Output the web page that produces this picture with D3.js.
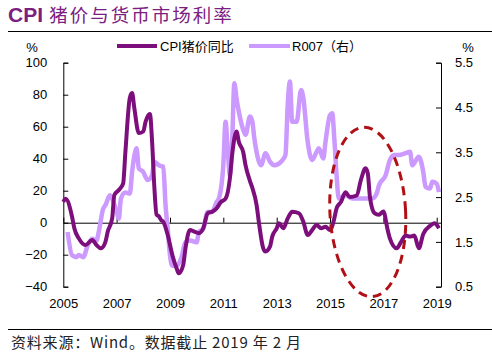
<!DOCTYPE html>
<html><head><meta charset="utf-8">
<script src="https://cdn.jsdelivr.net/npm/d3@7"></script>
<style>
body{margin:0;background:#fff;}
svg{display:block;font-family:"Liberation Sans",Arial,sans-serif;}
</style></head>
<body><svg id="c" width="492" height="359"></svg>
<script>
const pigDates = ["2005-01","2005-02","2005-05","2005-06","2005-08","2005-11","2006-02","2006-04","2006-06","2006-08","2006-09","2006-11","2006-12","2007-02","2007-04","2007-05","2007-07","2007-08","2007-09","2007-11","2008-01","2008-02","2008-04","2008-05","2008-06","2008-07","2008-08","2008-09","2008-10","2008-12","2009-02","2009-04","2009-05","2009-07","2009-08","2009-10","2009-12","2010-02","2010-04","2010-06","2010-08","2010-10","2010-12","2011-02","2011-04","2011-05","2011-07","2011-08","2011-10","2011-11","2012-01","2012-02","2012-04","2012-05","2012-07","2012-08","2012-10","2012-11","2013-01","2013-02","2013-04","2013-06","2013-08","2013-11","2014-01","2014-03","2014-05","2014-07","2014-09","2014-11","2015-01","2015-03","2015-04","2015-06","2015-08","2015-10","2016-01","2016-03","2016-05","2016-06","2016-07","2016-09","2016-11","2017-01","2017-03","2017-04","2017-07","2017-09","2017-11","2018-01","2018-03","2018-05","2018-07","2018-10","2018-12","2019-02"];
const pigValues = [13,15,3.7,-3.5,-9.8,-14,-10.8,-14,-16,-12,-5.6,2.7,17.3,20.4,24.6,44,78,81,71.5,56,57,63,68,50.6,22,5,4,1.7,0.6,-7.7,-20,-28.5,-31.6,-26.4,-16,-4.6,-5.6,-6.6,-3.5,5.9,6.9,9,13,15,27.7,42,57,50.6,44,36,26,22,11,0.6,-16,-18,-15,-8.7,-3.5,-0.4,-3.5,2.7,6.9,5.9,0.6,-7.7,-4.6,-1.4,-3.5,-2.5,-4.6,2.7,9,13,19,16,17,27,34,31,16,6,5,7,-4.6,-10,-16,-12,-8,-8.7,-8,-16,-7,-2,-0.4,-3.5];

const r007Dates = ["2005-03","2005-05","2005-07","2005-08","2005-10","2005-12","2006-02","2006-04","2006-05","2006-07","2006-08","2006-10","2006-11","2007-01","2007-02","2007-03","2007-05","2007-07","2007-08","2007-10","2007-11","2008-01","2008-02","2008-03","2008-05","2008-06","2008-08","2008-10","2008-11","2008-12","2009-01","2009-02","2009-04","2009-06","2009-08","2009-10","2010-01","2010-02","2010-04","2010-06","2010-08","2010-10","2010-11","2011-01","2011-02","2011-03","2011-04","2011-05","2011-06","2011-07","2011-08","2011-10","2011-11","2012-01","2012-02","2012-03","2012-04","2012-05","2012-06","2012-08","2012-10","2012-12","2013-03","2013-05","2013-06","2013-07","2013-08","2013-10","2013-12","2014-01","2014-03","2014-05","2014-07","2014-08","2014-10","2014-11","2015-01","2015-02","2015-03","2015-04","2015-05","2015-08","2015-11","2016-02","2016-05","2016-08","2016-10","2016-11","2017-02","2017-04","2017-06","2017-08","2017-11","2018-01","2018-02","2018-05","2018-07","2018-08","2018-10","2018-11","2019-01","2019-02"];
const r007Values = [1.72,1.2,1.16,1.21,1.16,1.42,1.57,1.53,1.72,2.24,2.32,2.54,2.47,2.17,2.02,2.47,2.6,2.58,3.06,3.59,3.14,3.06,2.95,2.88,2.99,3.29,3.21,3.18,2.32,1.79,1.2,0.97,0.97,1.12,1.49,1.53,1.49,1.72,1.79,2.17,2.17,2.39,2.47,3.21,4.18,3.59,2.99,3.66,5.04,4.7,4.41,4.0,3.89,4.3,4.2,3.81,3.5,3.3,3.21,3.48,3.29,3.21,3.29,3.44,4.56,5.08,4.18,4.18,4.89,4.71,3.74,3.33,3.51,3.59,3.36,3.74,4.33,4.37,3.81,2.99,2.47,2.54,2.47,2.47,2.47,2.47,2.58,2.76,2.99,3.33,3.44,3.44,3.48,3.51,3.21,3.4,3.06,2.73,2.69,2.84,2.8,2.61];

const leftTicks = [-40,-20,0,20,40,60,80,100];
const rightTicks = [0.5,1.5,2.5,3.5,4.5,5.5];
const yearTicks = [2005,2007,2009,2011,2013,2015,2017,2019];
const seriesNames = ["CPI猪价同比","R007（右）"];
const titleMain = "CPI";
const titleRest = "猪价与货币市场利率";
const sourceText = "资料来源：Wind。数据截止 2019 年 2 月";
// annotation ellipse (data coords): center date, center value (left axis), radius in months, radius in left units
const ellipseCenter = ["2016-06", 6.7];
const ellipseRadii = [16.6, 53];

const parse = d3.timeParse("%Y-%m");
const pig = pigDates.map((d,i)=>({date:parse(d), v:pigValues[i]}));
const r007 = r007Dates.map((d,i)=>({date:parse(d), v:r007Values[i]}));

const svg = d3.select("#c");
const L = 63.3, R = 441, T = 62.7, B = 286.7;
const x = d3.scaleTime().domain([parse("2005-01"), parse("2019-03")]).range([L, R]);
const yL = d3.scaleLinear().domain([-40,100]).range([B, T]);
const yR = d3.scaleLinear().domain([0.5,5.5]).range([B, T]);

const dark = "#7c0f7c", light = "#cc99ff";

// title
const tt = svg.append("text").attr("x",8).attr("y",22);
tt.append("tspan").text(titleMain).attr("font-size",21).attr("font-weight","bold").attr("fill","#7b2080")
  .attr("font-family","Liberation Sans, Arial, sans-serif");
tt.append("tspan").text(" "+titleRest).attr("font-size",18.5).attr("fill","#7b2080").attr("letter-spacing",2)
  .attr("font-family","Noto Sans CJK SC, sans-serif");
svg.append("line").attr("x1",8).attr("x2",492).attr("y1",31.5).attr("y2",31.5).attr("stroke","#000").attr("stroke-width",1);
svg.append("line").attr("x1",8).attr("x2",492).attr("y1",329.5).attr("y2",329.5).attr("stroke","#000").attr("stroke-width",1);
svg.append("text").attr("x",11).attr("y",348).attr("font-size",15).attr("letter-spacing",0.8).attr("fill","#222")
  .attr("font-family","Noto Sans CJK SC, sans-serif").text(sourceText);

// axes
const fs = 13;
const gl = svg.append("g").attr("transform",`translate(${L},0)`)
  .call(d3.axisLeft(yL).tickValues(leftTicks).tickSizeInner(-5).tickSizeOuter(-5).tickPadding(16));
const gr = svg.append("g").attr("transform",`translate(${R},0)`)
  .call(d3.axisRight(yR).tickValues(rightTicks).tickFormat(d3.format(".1f")).tickSizeInner(-5).tickSizeOuter(-5).tickPadding(14));
[gl,gr].forEach(g=>{g.selectAll("text").attr("font-size",fs).attr("fill","#000").attr("font-family","Liberation Sans, Arial, sans-serif");
  g.selectAll("path,line").attr("stroke","#000");});

// zero line with upward ticks
const gz = svg.append("g").attr("transform",`translate(0,${yL(0)})`)
  .call(d3.axisTop(x).tickValues(yearTicks.map(y=>new Date(y,0,1))).tickSize(5).tickSizeOuter(0).tickFormat(""));
gz.select(".domain").attr("stroke","#000");
gz.selectAll("line").attr("stroke","#000");
const gx = svg.append("g").attr("transform",`translate(0,${B})`)
  .call(d3.axisBottom(x).tickValues(yearTicks.map(y=>new Date(y,0,1))).tickSize(0).tickPadding(12).tickFormat(d3.timeFormat("%Y")));
gx.select(".domain").remove();
gx.selectAll("text").attr("font-size",fs).attr("fill","#000").attr("font-family","Liberation Sans, Arial, sans-serif");

svg.append("text").attr("x",32).attr("y",52).attr("text-anchor","middle").attr("font-size",fs).text("%");
svg.append("text").attr("x",468).attr("y",52).attr("text-anchor","middle").attr("font-size",fs).text("%");

// lines
const lineL = d3.line().x(d=>x(d.date)).y(d=>yL(d.v)).curve(d3.curveMonotoneX);
const lineR = d3.line().x(d=>x(d.date)).y(d=>yR(d.v)).curve(d3.curveMonotoneX);
svg.append("path").datum(r007).attr("d",lineR).attr("fill","none").attr("stroke",light).attr("stroke-width",4.5).attr("stroke-linejoin","round");
svg.append("path").datum(pig).attr("d",lineL).attr("fill","none").attr("stroke",dark).attr("stroke-width",4).attr("stroke-linejoin","round");

// ellipse annotation
const cx = x(parse(ellipseCenter[0])), cy = yL(ellipseCenter[1]);
const rx = x(d3.timeMonth.offset(parse(ellipseCenter[0]), Math.round(ellipseRadii[0]))) - cx;
const ry = yL(0) - yL(ellipseRadii[1]);
svg.append("ellipse").attr("cx",cx).attr("cy",cy).attr("rx",rx).attr("ry",ry)
  .attr("transform",`rotate(-3,${cx},${cy})`)
  .attr("fill","none").attr("stroke","#b01016").attr("stroke-width",3).attr("stroke-dasharray","9,6");

// legend
const lg = svg.append("g");
lg.append("line").attr("x1",117).attr("x2",157).attr("y1",46).attr("y2",46).attr("stroke",dark).attr("stroke-width",4);
lg.append("text").attr("x",160).attr("y",51).attr("font-size",13).attr("font-family","Liberation Sans, Noto Sans CJK SC, sans-serif").text(seriesNames[0]);
lg.append("line").attr("x1",249).attr("x2",290).attr("y1",46).attr("y2",46).attr("stroke",light).attr("stroke-width",4);
lg.append("text").attr("x",292).attr("y",51).attr("font-size",13).attr("font-family","Liberation Sans, Noto Sans CJK SC, sans-serif").text(seriesNames[1]);
</script></body></html>
